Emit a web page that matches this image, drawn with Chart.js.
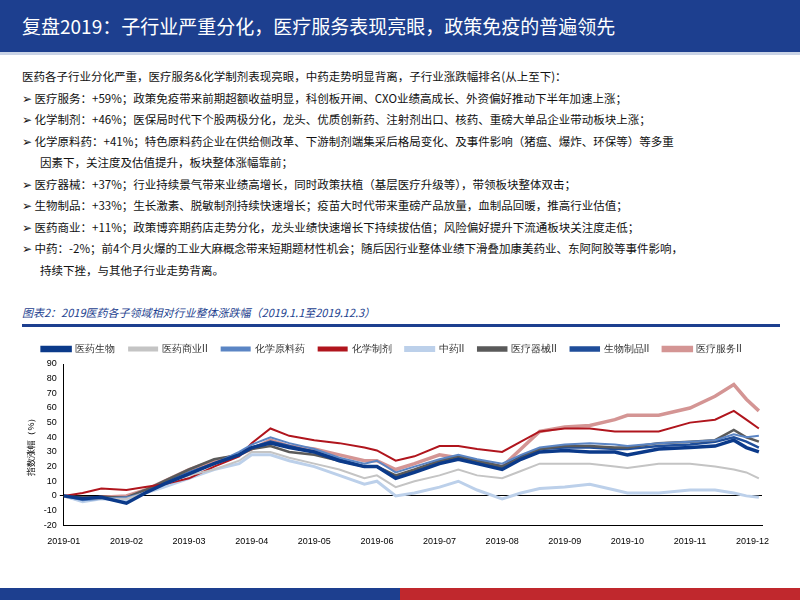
<!DOCTYPE html>
<html><head><meta charset="utf-8">
<script src="https://cdn.jsdelivr.net/npm/chart.js@4"></script>
<style>
body{margin:0;width:800px;height:600px;position:relative;background:#fff;font-family:"Noto Sans CJK SC",sans-serif;overflow:hidden}
#hdr{position:absolute;left:0;top:0;width:800px;height:52px;background:#1d3f8f;color:#fff;font-size:19px;line-height:52px;padding-left:22px;box-sizing:border-box}
#hdr2{position:absolute;left:0;top:52px;width:800px;height:3px;background:#c9d3e6}
#txt{position:absolute;left:22px;top:66px;font-size:11.5px;line-height:21.5px;color:#111}
#txt p{margin:0}
.ind{padding-left:18px}
#cap{position:absolute;left:22px;top:304px;font-size:11px;color:#1d3f8f;font-style:italic}
#capl{position:absolute;left:22px;top:324px;width:758px;height:3px;background:#1d3f8f}
#wrap{position:absolute;left:22px;top:330px;width:760px;height:220px}
#bot1{position:absolute;left:0;top:588px;width:400px;height:12px;background:#1d3f8f}
#bot2{position:absolute;left:400px;top:588px;width:400px;height:12px;background:#c0282d}
</style></head><body>
<div id="hdr">复盘2019：子行业严重分化，医疗服务表现亮眼，政策免疫的普遍领先</div>
<div id="hdr2"></div>
<div id="txt">
<p>医药各子行业分化严重，医疗服务&amp;化学制剂表现亮眼，中药走势明显背离，子行业涨跌幅排名(从上至下)：</p>
<p>➢ 医疗服务：+59%；政策免疫带来前期超额收益明显，科创板开闸、CXO业绩高成长、外资偏好推动下半年加速上涨；</p>
<p>➢ 化学制剂：+46%；医保局时代下个股两极分化，龙头、优质创新药、注射剂出口、核药、重磅大单品企业带动板块上涨；</p>
<p>➢ 化学原料药：+41%；特色原料药企业在供给侧改革、下游制剂端集采后格局变化、及事件影响（猪瘟、爆炸、环保等）等多重</p>
<p class="ind">因素下，关注度及估值提升，板块整体涨幅靠前；</p>
<p>➢ 医疗器械：+37%；行业持续景气带来业绩高增长，同时政策扶植（基层医疗升级等），带领板块整体双击；</p>
<p>➢ 生物制品：+33%；生长激素、脱敏制剂持续快速增长；疫苗大时代带来重磅产品放量，血制品回暖，推高行业估值；</p>
<p>➢ 医药商业：+11%；政策博弈期药店走势分化，龙头业绩快速增长下持续拔估值；风险偏好提升下流通板块关注度走低；</p>
<p>➢ 中药：-2%；前4个月火爆的工业大麻概念带来短期题材性机会；随后因行业整体业绩下滑叠加康美药业、东阿阿胶等事件影响，</p>
<p class="ind">持续下挫，与其他子行业走势背离。</p>
</div>
<div id="cap">图表2：2019医药各子领域相对行业整体涨跌幅（2019.1.1至2019.12.3）</div>
<div id="capl"></div>
<div id="wrap"><canvas id="c"></canvas></div>
<div id="bot1"></div><div id="bot2"></div>
<script>
const months=['2019-01','2019-02','2019-03','2019-04','2019-05','2019-06','2019-07','2019-08','2019-09','2019-10','2019-11','2019-12'];
const xPos=[0,0.3,0.6,1.0,1.3,1.6,2.0,2.4,2.8,3.0,3.3,3.6,4.0,4.4,4.8,5.0,5.3,5.6,6.0,6.3,6.6,7.0,7.3,7.6,8.0,8.4,8.8,9.0,9.5,10.0,10.4,10.7,10.9,11.1];
const yiyaoshengwu=[0,-2,-1,-5,2,8,15,22,28,33,36,33,30,24,20,20,12,16,22,25,22,18,25,30,31,30,30,28,32,33,34,38,33,30];
const yiyaoshangye=[0,-2,-2,-2,2,8,14,18,24,30,30,26,22,18,12,14,6,10,14,18,14,12,17,22,22,22,20,19,22,22,20,18,16,12];
const huaxueyuanliao=[0,-3,-2,-1,2,8,16,22,30,35,40,36,32,26,22,24,16,20,25,28,25,22,28,33,35,36,35,34,36,37,38,42,40,41];
const huaxuezhiji=[0,2,5,4,6,8,12,20,27,36,46,41,38,36,33,31,24,27,34,34,32,30,37,44,46,46,44,44,44,50,52,58,52,46];
const zhongyao=[0,-4,-2,-3,2,6,12,18,22,28,28,24,20,14,8,10,0,2,6,10,4,-2,2,5,6,8,4,2,2,4,4,2,0,-1];
const yiliaoqixie=[0,-1,-1,-1,4,10,18,25,28,32,34,30,28,24,20,20,14,18,24,27,24,20,26,32,34,34,33,33,36,37,38,45,40,37];
const shengwuzhipin=[0,-2,-1,-2,3,9,16,22,28,33,37,34,30,25,20,20,13,17,23,26,23,20,27,32,33,33,32,32,34,35,37,40,37,33];
const yiliaofuwu=[0,-3,-1,0,4,10,18,24,28,32,38,34,32,28,24,24,18,22,28,26,24,20,32,44,47,48,52,55,55,60,68,76,66,58];
const yTicks=[-20,-10,0,10,20,30,40,50,60,70,80,90];
function pts(a){return a.map((v,i)=>({x:xPos[i],y:v}));}
const S=[['医药生物',yiyaoshengwu,'#0b3a8a',3.5],['医药商业II',yiyaoshangye,'#c4c4c4',2],['化学原料药',huaxueyuanliao,'#5b85c4',2],['化学制剂',huaxuezhiji,'#b0151d',2],['中药II',zhongyao,'#bcd0ea',3],['医疗器械II',yiliaoqixie,'#5a5a5a',2.5],['生物制品II',shengwuzhipin,'#1f4e9a',2.5],['医疗服务II',yiliaofuwu,'#d49594',3.5]];
new Chart(document.getElementById('c'),{type:'line',
data:{datasets:S.map(s=>({label:s[0],data:pts(s[1]),borderColor:s[2],backgroundColor:s[2],borderWidth:s[3],pointRadius:0,tension:0}))},
options:{responsive:true,maintainAspectRatio:false,animation:false,
layout:{padding:{right:20}},
plugins:{legend:{position:'top',labels:{boxWidth:28,boxHeight:3,font:{size:10},color:'#333',padding:14}}},
scales:{x:{type:'linear',min:0,max:11.15,grid:{display:false},border:{color:'#000'},
 afterBuildTicks:a=>{a.ticks=months.map((m,i)=>({value:i}));},
 ticks:{callback:(v)=>months[Math.round(v)],font:{size:9},color:'#000',maxRotation:0,autoSkip:false}},
 y:{min:-20,max:90,border:{color:'#000'},afterBuildTicks:a=>{a.ticks=yTicks.map(v=>({value:v}));},
 grid:{color:c=>c.tick&&c.tick.value===0?'#000':'rgba(0,0,0,0)',drawTicks:true,tickLength:4},
 ticks:{font:{size:9},color:'#000'},
 title:{display:true,text:'指数涨幅（%）',font:{size:9},color:'#000'}}}}});
</script>
</body></html>
